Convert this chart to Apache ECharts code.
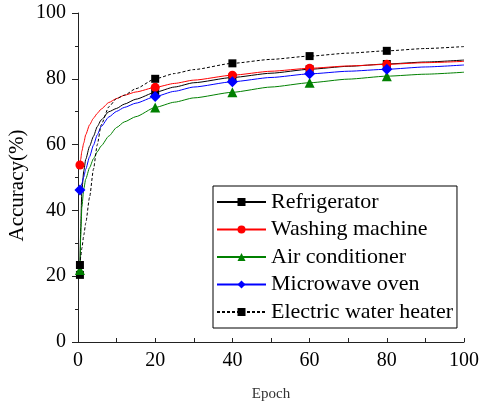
<!DOCTYPE html>
<html>
<head>
<meta charset="utf-8">
<script src="https://cdn.jsdelivr.net/npm/echarts@6/dist/echarts.min.js"></script>
<style>
html, body { margin: 0; padding: 0; background: #fff; }
#main { width: 479px; height: 407px; }
</style>
</head>
<body>
<div id="main"></div>
<script>
// epochs, markers only at these ones
var epochs = [0.5, 0.7, 1, 1.5, 2, 3, 4, 5, 6, 8, 10, 12, 15, 20, 25, 30, 40, 50, 60, 70, 80, 90, 100];
var markerEpochs = [0.5, 20, 40, 60, 80];

var refrigerator = [20.4, 35, 46, 52, 55.5, 59.5, 62.5, 65.5, 67.5, 70, 71, 72.3, 73.8, 75.9, 77.5, 78.8, 80.4, 81.7, 82.9, 83.8, 84.5, 85.1, 85.7];
var washing = [53.8, 55.5, 58, 60.5, 63, 66, 68, 69.5, 70.8, 72.8, 74, 75, 76, 77.4, 78.6, 79.6, 81.1, 82.3, 83.2, 83.9, 84.4, 84.9, 85.3];
var airCond = [21.9, 32, 41, 46.5, 49.5, 53, 55.7, 57.8, 59.6, 62.6, 65.2, 66.9, 68.5, 71.3, 72.9, 74.2, 75.9, 77.5, 78.8, 79.9, 80.8, 81.4, 82];
var microwave = [46.2, 47, 48.2, 50.2, 52.5, 56.3, 59.8, 63, 65.5, 68.4, 70.1, 71.3, 72.6, 74.6, 76.2, 77.5, 79.1, 80.4, 81.5, 82.3, 82.9, 83.6, 84.2];
var waterHeater = [23.4, 25.9, 28.5, 32.5, 36.1, 44, 52.5, 60, 66, 71.5, 74, 75, 77, 80, 81.6, 82.8, 84.7, 85.9, 86.9, 87.8, 88.5, 89.2, 89.8];

var font = 'Liberation Serif';

function pts(vals) {
    return epochs.map(function(e, i) {
        var item = { value: [e, vals[i]] };
        if (markerEpochs.indexOf(e) < 0) item.symbol = 'none';
        return item;
    });
}

function mkSeries(name, vals, color, symbol, size, dashed) {
    return {
        name: name,
        type: 'line',
        smooth: 0.2,
        smoothMonotone: 'x',
        symbol: symbol,
        symbolSize: size,
        clip: false,
        lineStyle: { color: color, width: 1, type: dashed ? [3, 2] : 'solid' },
        itemStyle: { color: color },
        emphasis: { disabled: true },
        data: pts(vals)
    };
}

var chart = echarts.init(document.getElementById('main'));
chart.setOption({
    animation: false,
    grid: { left: 78, right: 15, top: 13, bottom: 65, containLabel: false, outerBoundsMode: 'none' },
    legend: {
        orient: 'vertical',
        left: 213,
        top: 186,
        padding: [5, 4, 5, 3],
        itemWidth: 49,
        itemHeight: 10,
        itemGap: 5.5,
        borderColor: '#000',
        borderWidth: 1,
        textStyle: { fontFamily: font, fontSize: 22, color: '#000' },
        data: ['Refrigerator', 'Washing machine', 'Air conditioner', 'Microwave oven', 'Electric water heater']
    },
    xAxis: {
        type: 'value',
        min: 0,
        max: 100,
        interval: 20,
        name: 'Epoch',
        nameLocation: 'middle',
        nameGap: 45,
        nameMoveOverlap: false,
        nameTextStyle: { fontFamily: font, fontSize: 15, color: '#333' },
        axisLine: { lineStyle: { color: '#222', width: 1 } },
        axisTick: { inside: true, length: 4, lineStyle: { color: '#222' } },
        minorTick: { show: true, splitNumber: 2, length: 4, lineStyle: { color: '#222' } },
        axisLabel: { fontFamily: font, fontSize: 20, color: '#000', margin: 9 },
        splitLine: { show: false }
    },
    yAxis: {
        type: 'value',
        min: 0,
        max: 100,
        interval: 20,
        name: 'Accuracy(%)',
        nameLocation: 'middle',
        nameGap: 50,
        nameMoveOverlap: false,
        nameTextStyle: { fontFamily: font, fontSize: 21, color: '#000', padding: [0, 16, 0, 0] },
        axisLine: { show: true, lineStyle: { color: '#222', width: 1 } },
        axisTick: { show: true, length: 6, lineStyle: { color: '#222' } },
        minorTick: { show: true, splitNumber: 2, length: 3, lineStyle: { color: '#222' } },
        axisLabel: { fontFamily: font, fontSize: 20, color: '#000', margin: 12 },
        splitLine: { show: false }
    },
    series: [
        mkSeries('Refrigerator', refrigerator, '#000000', 'rect', 8, false),
        mkSeries('Washing machine', washing, '#ff0000', 'circle', 9, false),
        mkSeries('Air conditioner', airCond, '#008000', 'triangle', 10, false),
        mkSeries('Microwave oven', microwave, '#0000ff', 'diamond', 11, false),
        mkSeries('Electric water heater', waterHeater, '#000000', 'rect', 8, true)
    ]
});
</script>
</body>
</html>
